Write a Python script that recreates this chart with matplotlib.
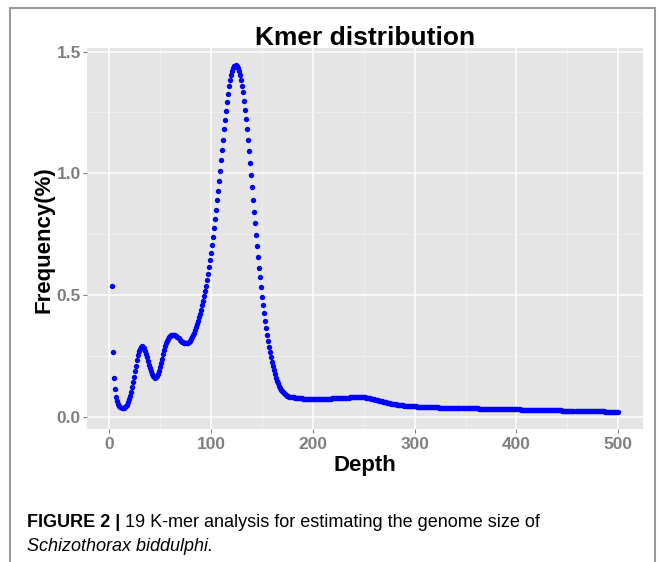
import matplotlib.pyplot as plt
from matplotlib.patches import Rectangle

plt.rcParams['font.family'] = ['Liberation Sans', 'DejaVu Sans']

# k-mer frequency (%), one value per depth starting at 3
depth_start = 3
freq = [
    0.537, 0.266, 0.160, 0.113, 0.082, 0.064, 0.052, 0.044, 0.039, 0.037,  # 3-12
    0.036, 0.037, 0.040, 0.044, 0.050, 0.060, 0.072, 0.086, 0.103, 0.122,  # 13-22
    0.143, 0.165, 0.188, 0.210, 0.232, 0.252, 0.268, 0.280, 0.288, 0.290,  # 23-32
    0.288, 0.282, 0.272, 0.259, 0.244, 0.229, 0.213, 0.199, 0.187, 0.176,  # 33-42
    0.168, 0.163, 0.161, 0.162, 0.167, 0.176, 0.188, 0.203, 0.220, 0.238,  # 43-52
    0.256, 0.273, 0.289, 0.302, 0.313, 0.321, 0.328, 0.332, 0.335, 0.336,  # 53-62
    0.337, 0.336, 0.334, 0.331, 0.327, 0.322, 0.317, 0.312, 0.308, 0.305,  # 63-72
    0.303, 0.302, 0.302, 0.302, 0.304, 0.307, 0.312, 0.318, 0.326, 0.335,  # 73-82
    0.345, 0.356, 0.368, 0.381, 0.395, 0.409, 0.424, 0.440, 0.457, 0.475,  # 83-92
    0.494, 0.515, 0.538, 0.562, 0.587, 0.614, 0.643, 0.673, 0.705, 0.738,  # 93-102
    0.774, 0.811, 0.849, 0.889, 0.929, 0.970, 1.011, 1.053, 1.096, 1.138,  # 103-112
    1.180, 1.220, 1.258, 1.294, 1.327, 1.357, 1.383, 1.404, 1.421, 1.434,  # 113-122
    1.442, 1.445, 1.440, 1.432, 1.420, 1.404, 1.384, 1.360, 1.332, 1.298,  # 123-132
    1.262, 1.222, 1.180, 1.136, 1.091, 1.044, 0.994, 0.943, 0.892, 0.842,  # 133-142
    0.794, 0.746, 0.700, 0.656, 0.613, 0.572, 0.531, 0.493, 0.458, 0.425,  # 143-152
    0.393, 0.363, 0.336, 0.310, 0.286, 0.264, 0.244, 0.225, 0.207, 0.190,  # 153-162
    0.175, 0.161, 0.148, 0.137, 0.127, 0.118, 0.111, 0.105, 0.100, 0.096,  # 163-172
    0.092, 0.089, 0.087, 0.085, 0.083, 0.082, 0.081, 0.080, 0.079, 0.078,  # 173-182
    0.0775, 0.077, 0.0765, 0.076, 0.0757, 0.0753, 0.075, 0.0747, 0.0744, 0.0741,  # 183-192
    0.0738, 0.0736, 0.0734, 0.0732, 0.0731, 0.073, 0.0729, 0.0729, 0.0729, 0.0729,  # 193-202
    0.0729, 0.0729, 0.073, 0.073, 0.0731, 0.0732, 0.0733, 0.0734, 0.0735, 0.0737,  # 203-212
    0.0738, 0.074, 0.0742, 0.0744, 0.0746, 0.0748, 0.075, 0.0752, 0.0754, 0.0757,  # 213-222
    0.0759, 0.0762, 0.0764, 0.0767, 0.0769, 0.0772, 0.0775, 0.0777, 0.078, 0.0782,  # 223-232
    0.0785, 0.0787, 0.0789, 0.0792, 0.0794, 0.0796, 0.0798, 0.0799, 0.0801, 0.0802,  # 233-242
    0.0803, 0.0804, 0.0804, 0.0804, 0.0803, 0.0801, 0.0799, 0.0796, 0.0792, 0.0787,  # 243-252
    0.0781, 0.0774, 0.0766, 0.0757, 0.0748, 0.0738, 0.0727, 0.0716, 0.0705, 0.0694,  # 253-262
    0.0683, 0.0671, 0.066, 0.0649, 0.0638, 0.0627, 0.0616, 0.0606, 0.0596, 0.0586,  # 263-272
    0.0576, 0.0567, 0.0558, 0.0549, 0.0541, 0.0533, 0.0525, 0.0518, 0.0511, 0.0504,  # 273-282
    0.0498, 0.0492, 0.0486, 0.048, 0.0475, 0.047, 0.0465, 0.046, 0.0456, 0.0452,  # 283-292
    0.0448, 0.0444, 0.044, 0.0437, 0.0433, 0.043, 0.0427, 0.0424, 0.0421, 0.0418,  # 293-302
    0.0416, 0.0413, 0.0411, 0.0409, 0.0407, 0.0405, 0.0403, 0.0401, 0.0399, 0.0397,  # 303-312
    0.0395, 0.0393, 0.0392, 0.039, 0.0388, 0.0387, 0.0385, 0.0384, 0.0382, 0.0381,  # 313-322
    0.038, 0.0378, 0.0377, 0.0376, 0.0374, 0.0373, 0.0372, 0.0371, 0.037, 0.0369,  # 323-332
    0.0367, 0.0366, 0.0365, 0.0364, 0.0363, 0.0362, 0.0361, 0.036, 0.0359, 0.0358,  # 333-342
    0.0357, 0.0356, 0.0355, 0.0354, 0.0353, 0.0352, 0.0351, 0.035, 0.0349, 0.0348,  # 343-352
    0.0347, 0.0346, 0.0345, 0.0344, 0.0343, 0.0342, 0.0341, 0.034, 0.0339, 0.0338,  # 353-362
    0.0337, 0.0336, 0.0335, 0.0334, 0.0333, 0.0332, 0.0331, 0.033, 0.0329, 0.0328,  # 363-372
    0.0327, 0.0326, 0.0325, 0.0324, 0.0323, 0.0322, 0.0321, 0.032, 0.0319, 0.0318,  # 373-382
    0.0317, 0.0316, 0.0315, 0.0314, 0.0313, 0.0312, 0.0311, 0.031, 0.0309, 0.0308,  # 383-392
    0.0307, 0.0306, 0.0305, 0.0304, 0.0303, 0.0302, 0.0301, 0.03, 0.0299, 0.0298,  # 393-402
    0.0297, 0.0296, 0.0295, 0.0294, 0.0293, 0.0292, 0.0291, 0.029, 0.0289, 0.0288,  # 403-412
    0.0287, 0.0286, 0.0285, 0.0284, 0.0283, 0.0282, 0.0281, 0.028, 0.0279, 0.0278,  # 413-422
    0.0277, 0.0276, 0.0275, 0.0274, 0.0273, 0.0272, 0.0271, 0.027, 0.0269, 0.0268,  # 423-432
    0.0267, 0.0266, 0.0265, 0.0264, 0.0263, 0.0262, 0.0261, 0.026, 0.0259, 0.0258,  # 433-442
    0.0257, 0.0256, 0.0255, 0.0254, 0.0253, 0.0252, 0.0251, 0.025, 0.0249, 0.0248,  # 443-452
    0.0247, 0.0246, 0.0245, 0.0244, 0.0243, 0.0242, 0.0241, 0.024, 0.0239, 0.0238,  # 453-462
    0.0237, 0.0236, 0.0235, 0.0234, 0.0233, 0.0232, 0.0231, 0.023, 0.0229, 0.0228,  # 463-472
    0.0227, 0.0226, 0.0225, 0.0224, 0.0223, 0.0222, 0.0221, 0.022, 0.0219, 0.0218,  # 473-482
    0.0217, 0.0216, 0.0215, 0.0214, 0.0213, 0.0212, 0.0211, 0.021, 0.0209, 0.0208,  # 483-492
    0.0207, 0.0206, 0.0205, 0.0204, 0.0203, 0.0202, 0.0201, 0.020,                # 493-500
]
depth = list(range(depth_start, depth_start + len(freq)))

x_ticks = [0, 100, 200, 300, 400, 500]
x_minor = [50, 150, 250, 350, 450]
y_ticks = [0.0, 0.5, 1.0, 1.5]
y_minor = [0.25, 0.75, 1.25]
y_tick_labels = ['0.0', '0.5', '1.0', '1.5']

W, H = 663, 562
fig = plt.figure(figsize=(W / 100, H / 100), dpi=100)

# outer frame of the figure panel
fig.patches.append(Rectangle((10 / W, -0.05), (655 - 10) / W, 1.05 - 8 / H,
                             transform=fig.transFigure, fill=False,
                             edgecolor='#9a9a9a', linewidth=1.5))

# plot panel (ggplot-like grey)
ax = fig.add_axes([87 / W, 1 - 429 / H, (643 - 87) / W, (429 - 48) / H])
ax.set_facecolor('#E5E5E5')
ax.scatter(depth, freq, s=15, color='#0000FF', linewidths=0, zorder=3)

ax.set_xlim(-21.9, 524.3)
ax.set_ylim(-0.0505, 1.5148)
ax.set_xticks(x_ticks)
ax.set_xticks(x_minor, minor=True)
ax.set_yticks(y_ticks)
ax.set_yticks(y_minor, minor=True)
ax.set_yticklabels(y_tick_labels)
ax.grid(which='major', color='white', linewidth=1.1)
ax.grid(which='minor', color='#F2F2F2', linewidth=0.5)
ax.set_axisbelow(True)
for sp in ax.spines.values():
    sp.set_visible(False)
ax.tick_params(which='major', length=3, width=0.8, color='#7F7F7F',
               labelcolor='#7F7F7F', labelsize=12.5)
ax.tick_params(axis='x', pad=3)
ax.tick_params(axis='y', pad=1.5)
ax.tick_params(which='minor', length=0)
for lbl in ax.get_xticklabels() + ax.get_yticklabels():
    lbl.set_fontweight('bold')

# titles
fig.text(365 / W, 1 - 45 / H, 'Kmer distribution', ha='center', va='baseline',
         fontsize=19, fontweight='bold')
fig.text(365 / W, 1 - 471 / H, 'Depth', ha='center', va='baseline',
         fontsize=16, fontweight='bold')
fig.text(44 / W, 1 - 240 / H, 'Frequency(%)', ha='center', va='center',
         rotation=90, fontsize=16, fontweight='bold')

# caption
cap_bold = fig.text(27 / W, 1 - 527 / H, 'FIGURE 2 |', ha='left', va='baseline',
                    fontsize=13, fontweight='bold')
fig.canvas.draw()
bb = cap_bold.get_window_extent()
fig.text(bb.x1 / W, 1 - 527 / H, ' 19 K-mer analysis for estimating the genome size of',
         ha='left', va='baseline', fontsize=13)
fig.text(27 / W, 1 - 551 / H, 'Schizothorax biddulphi.', ha='left', va='baseline',
         fontsize=13, style='italic')

fig.savefig('out.png', dpi=100)
